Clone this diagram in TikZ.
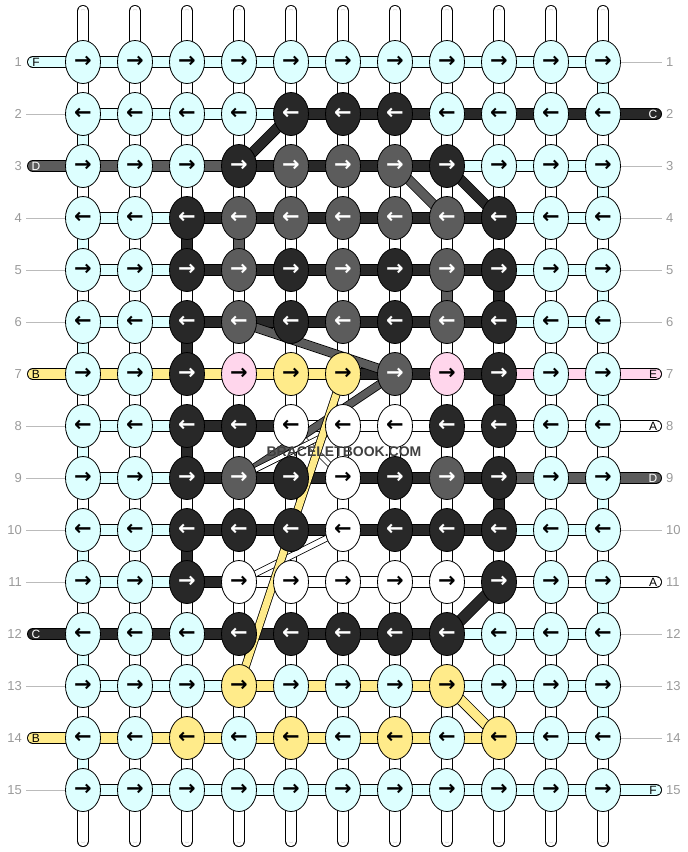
\documentclass[tikz,border=0pt]{standalone}
\usepackage{fontspec}
\setmainfont{Liberation Sans}
\newfontfamily\arrowfont{DejaVu Sans}
\usetikzlibrary{shapes.geometric}

\pgfdeclarelayer{warp}
\pgfdeclarelayer{strings}
\pgfsetlayers{warp,strings,main}

\definecolor{kC}{HTML}{DDFFFF}
\definecolor{kD}{HTML}{282828}
\definecolor{kG}{HTML}{5C5C5C}
\definecolor{kY}{HTML}{FFEB8A}
\definecolor{kP}{HTML}{FFD6EC}
\definecolor{kW}{HTML}{FFFFFF}
\definecolor{rowgrey}{HTML}{9A9A9A}
\definecolor{guide}{HTML}{BBBBBB}

\tikzset{
    knot/.style={ellipse, draw=black, line width=0.8pt,
        minimum width=35pt, minimum height=43pt, inner sep=0pt,
        font=\arrowfont\bfseries\fontsize{21}{21}\selectfont},
    knotC/.style={knot, fill=kC},
    knotD/.style={knot, fill=kD, text=white},
    knotG/.style={knot, fill=kG, text=white},
    knotY/.style={knot, fill=kY},
    knotP/.style={knot, fill=kP},
    knotW/.style={knot, fill=kW},
    thread/.style={draw=black, line width=0.8pt, double distance=10.4pt},
    threadC/.style={thread, double=kC},
    threadD/.style={thread, double=kD},
    threadG/.style={thread, double=kG},
    threadY/.style={thread, double=kY},
    threadP/.style={thread, double=kP},
    threadW/.style={thread, double=kW},
    warpstrand/.style={draw=black, line width=0.8pt, double=white,
        double distance=10.4pt, line cap=round},
    warpcore/.style={draw=gray!45, line width=0.6pt, double=white,
        double distance=3.2pt, line cap=round},
    tabletter/.style={font=\fontsize{12}{12}\selectfont, inner sep=0pt},
    rownum/.style={text=rowgrey, font=\fontsize{13}{13}\selectfont, inner sep=0pt},
    guideline/.style={draw=guide, line width=0.8pt},
}

\begin{document}
\begin{tikzpicture}[x=1pt, y=-1pt]
    \useasboundingbox (0,0) rectangle (688,852);

    % knots, one row at a time
    \foreach \r/\knots in {
        1/{C,C,C,C,C,C,C,C,C,C,C},
        2/{C,C,C,C,D,D,D,C,C,C,C},
        3/{C,C,C,D,G,G,G,D,C,C,C},
        4/{C,C,D,G,G,G,G,G,D,C,C},
        5/{C,C,D,G,D,G,D,G,D,C,C},
        6/{C,C,D,G,D,G,D,G,D,C,C},
        7/{C,C,D,P,Y,Y,G,P,D,C,C},
        8/{C,C,D,D,W,W,W,D,D,C,C},
        9/{C,C,D,G,D,W,D,G,D,C,C},
        10/{C,C,D,D,D,W,D,D,D,C,C},
        11/{C,C,D,W,W,W,W,W,D,C,C},
        12/{C,C,C,D,D,D,D,D,C,C,C},
        13/{C,C,C,Y,C,C,C,Y,C,C,C},
        14/{C,C,Y,C,Y,C,Y,C,Y,C,C},
        15/{C,C,C,C,C,C,C,C,C,C,C}}
        \foreach \k [count=\c] in \knots
            \node[knot\k] (k-\r-\c) at ({31+52*\c},{10+52*\r})
                {\ifodd\r →\else ←\fi};

    % warp strands
    \begin{pgfonlayer}{warp}
    \foreach \c in {1,...,11} {
        \coordinate (wt-\c) at ({31+52*\c},11);
        \coordinate (wb-\c) at ({31+52*\c},841);
        \draw[warpstrand] (wt-\c) -- (wb-\c);
        \draw[warpcore] (wt-\c) -- (wb-\c);
    }
    \end{pgfonlayer}

    \begin{pgfonlayer}{strings}
    % row threads between knots
    \foreach \r/\segs in {
        1/{C,C,C,C,C,C,C,C,C,C},
        2/{C,C,C,C,D,D,D,D,D,D},
        3/{G,G,G,D,D,D,D,C,C,C},
        4/{C,C,D,D,D,D,D,D,C,C},
        5/{C,C,D,D,D,D,D,D,C,C},
        6/{C,C,D,D,D,D,D,D,C,C},
        7/{Y,Y,Y,Y,Y,D,D,D,P,P},
        8/{C,C,D,D,W,W,W,W,W,W},
        9/{C,C,D,D,D,D,D,D,G,G},
        10/{C,C,D,D,D,D,D,D,C,C},
        11/{C,C,D,W,W,W,W,W,W,W},
        12/{D,D,D,D,D,D,D,C,C,C},
        13/{C,C,C,Y,Y,Y,Y,C,C,C},
        14/{Y,Y,Y,Y,Y,Y,Y,Y,C,C},
        15/{C,C,C,C,C,C,C,C,C,C}}
        \foreach \s [count=\c] in \segs {
            \pgfmathtruncatemacro\n{\c+1}
            \draw[thread\s] (k-\r-\c.center) -- (k-\r-\n.center);
        }

    % threads carried down to the next row
    \foreach \r/\c/\s in {2/1/C, 4/1/C, 6/1/C, 8/1/C, 10/1/C, 12/1/C, 14/1/C,
        1/11/C, 3/11/C, 5/11/C, 7/11/C, 9/11/C, 11/11/C, 13/11/C,
        4/3/D, 6/3/D, 8/3/D, 10/3/D, 5/9/D, 7/9/D, 9/9/D, 4/4/G, 5/8/G} {
        \pgfmathtruncatemacro\n{\r+1}
        \draw[thread\s] (k-\r-\c.center) -- (k-\n-\c.center);
    }

    % diagonal threads
    \foreach \ra/\ca/\rb/\cb/\s/\w in {3/4/2/5/D/9, 3/7/4/8/G/8.5, 3/8/4/9/D/9,
        6/4/7/7/G/8, 7/7/9/4/G/7, 8/5/9/6/W/4, 8/6/9/4/W/4, 10/6/11/4/W/5,
        7/6/13/4/Y/7, 11/9/12/8/D/10, 13/8/14/9/Y/9}
        \draw[thread\s, double distance=\w pt] (k-\ra-\ca.center) -- (k-\rb-\cb.center);

    % tabs on the left
    \foreach \r/\s/\l/\t in {1/C/F/black, 3/G/D/white, 7/Y/B/black,
        12/D/C/white, 14/Y/B/black} {
        \coordinate (lt-\r) at (33,{10+52*\r});
        \draw[thread\s, line cap=round] (lt-\r) -- (k-\r-1.center);
        \node[tabletter, text=\t] (ll-\r) at (36,{10.5+52*\r}) {\l};
    }
    % tabs on the right
    \foreach \r/\s/\l/\t in {2/D/C/white, 7/P/E/black, 8/W/A/black,
        9/G/D/white, 11/W/A/black, 15/C/F/black} {
        \coordinate (rt-\r) at (656,{10+52*\r});
        \draw[thread\s, line cap=round] (k-\r-11.center) -- (rt-\r);
        \node[tabletter, text=\t] (rl-\r) at (653,{10.5+52*\r}) {\l};
    }
    \end{pgfonlayer}

    % guide lines to the row numbers
    \foreach \r in {2,4,5,6,8,9,10,11,13,15} {
        \coordinate (gl-\r) at (26,{10+52*\r});
        \draw[guideline] (gl-\r) -- (k-\r-1.west);
    }
    \foreach \r in {1,3,4,5,6,10,12,13,14} {
        \coordinate (gr-\r) at (662,{10+52*\r});
        \draw[guideline] (k-\r-11.east) -- (gr-\r);
    }
    \foreach \r in {1,...,15} {
        \node[rownum, anchor=east] (nl-\r) at (22,{10+52*\r}) {\r};
        \node[rownum, anchor=west] (nr-\r) at (666,{10+52*\r}) {\r};
    }

    \node[font=\bfseries\fontsize{14}{14}\selectfont, text=black!75] (mark)
        at (344,452) {BRACELETBOOK.COM};
\end{tikzpicture}
\end{document}
